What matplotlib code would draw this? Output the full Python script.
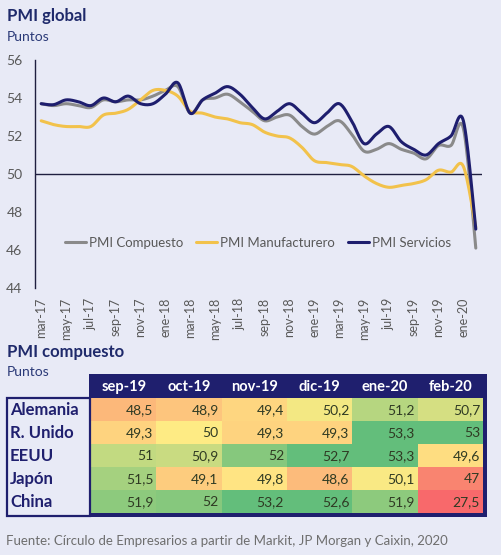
import numpy as np
import matplotlib
matplotlib.use('Agg')
import matplotlib.pyplot as plt
from matplotlib.patches import Rectangle
from matplotlib.colors import LinearSegmentedColormap, TwoSlopeNorm

plt.rcParams['font.family'] = ['Lato', 'DejaVu Sans']

# ---------------- data ----------------
meses = ['mar-17', 'abr-17', 'may-17', 'jun-17', 'jul-17', 'ago-17', 'sep-17', 'oct-17', 'nov-17', 'dic-17',
         'ene-18', 'feb-18', 'mar-18', 'abr-18', 'may-18', 'jun-18', 'jul-18', 'ago-18', 'sep-18', 'oct-18',
         'nov-18', 'dic-18', 'ene-19', 'feb-19', 'mar-19', 'abr-19', 'may-19', 'jun-19', 'jul-19', 'ago-19',
         'sep-19', 'oct-19', 'nov-19', 'dic-19', 'ene-20', 'feb-20']

pmi_compuesto = [53.7, 53.6, 53.7, 53.6, 53.5, 53.9, 53.8, 53.9, 53.9, 54.1,
                 54.4, 54.6, 53.2, 53.9, 54.0, 54.2, 53.8, 53.3, 52.8, 53.0,
                 53.1, 52.5, 52.1, 52.5, 52.8, 52.1, 51.2, 51.3, 51.6, 51.3,
                 51.1, 50.8, 51.5, 51.5, 52.4, 46.1]

pmi_manufacturero = [52.8, 52.6, 52.5, 52.5, 52.5, 53.1, 53.2, 53.4, 53.9, 54.4,
                     54.4, 54.1, 53.3, 53.2, 53.0, 52.9, 52.7, 52.6, 52.2, 52.0,
                     51.9, 51.4, 50.7, 50.6, 50.5, 50.4, 49.9, 49.5, 49.3, 49.4,
                     49.5, 49.7, 50.2, 50.1, 50.4, 47.2]

pmi_servicios = [53.7, 53.65, 53.9, 53.8, 53.6, 54.0, 53.8, 54.1, 53.7, 53.7,
                 54.2, 54.8, 53.2, 53.9, 54.25, 54.6, 54.2, 53.5, 52.9, 53.3,
                 53.7, 53.2, 52.7, 53.2, 53.7, 52.8, 51.6, 52.1, 52.5, 51.7,
                 51.3, 51.0, 51.6, 52.0, 52.8, 47.1]

series_nombres = ['PMI Compuesto', 'PMI Manufacturero', 'PMI Servicios']
yticks = [44, 46, 48, 50, 52, 54, 56]

tabla_columnas = ['sep-19', 'oct-19', 'nov-19', 'dic-19', 'ene-20', 'feb-20']
tabla_paises = ['Alemania', 'R. Unido', 'EEUU', 'Japón', 'China']
alemania = [48.5, 48.9, 49.4, 50.2, 51.2, 50.7]
r_unido = [49.3, 50, 49.3, 49.3, 53.3, 53]
eeuu = [51, 50.9, 52, 52.7, 53.3, 49.6]
japon = [51.5, 49.1, 49.8, 48.6, 50.1, 47]
china = [51.9, 52, 53.2, 52.6, 51.9, 27.5]
tabla_valores = [alemania, r_unido, eeuu, japon, china]

fuente = 'Fuente: Círculo de Empresarios a partir de Markit, JP Morgan y Caixin, 2020'

# ---------------- style ----------------
BG = '#E8EAF6'
NAVY = '#1F1F6E'
TITLE = '#1F2A6B'
GRAY_TXT = '#595959'
C_GRAY = '#8A8A8A'
C_YEL = '#F2C24B'
C_NAVY = '#1E1E6E'

W, H = 501, 555
fig = plt.figure(figsize=(W / 100, H / 100), dpi=100, facecolor=BG)


def smooth(y, n=16):
    """Catmull-Rom style smoothing (like Excel smoothed lines)."""
    x = np.arange(len(y), dtype=float)
    y = np.asarray(y, dtype=float)
    P = np.column_stack([x, y])
    out = []
    for i in range(len(P) - 1):
        p0 = P[max(i - 1, 0)]
        p1 = P[i]
        p2 = P[i + 1]
        p3 = P[min(i + 2, len(P) - 1)]
        b1 = p1 + (p2 - p0) / 6.0
        b2 = p2 - (p3 - p1) / 6.0
        t = np.linspace(0, 1, n, endpoint=(i == len(P) - 2))[:, None]
        seg = ((1 - t) ** 3) * p1 + 3 * ((1 - t) ** 2) * t * b1 + 3 * (1 - t) * t ** 2 * b2 + t ** 3 * p2
        out.append(seg)
    s = np.vstack(out)
    return s[:, 0], s[:, 1]


# ---------------- line chart ----------------
ax = fig.add_axes([35 / W, 1 - 288 / H, 447 / W, 228 / H])
ax.set_facecolor('none')
ax.set_xlim(-0.5, 35.5)
ax.set_ylim(44, 56)
for sp in ['top', 'right', 'bottom']:
    ax.spines[sp].set_visible(False)
ax.spines['left'].set_color('#1F1F3F')
ax.spines['left'].set_linewidth(1.0)
ax.axhline(50, color='#1F1F3F', lw=1.0, zorder=1)

for vals, col, name in zip([pmi_compuesto, pmi_manufacturero, pmi_servicios],
                           [C_GRAY, C_YEL, C_NAVY], series_nombres):
    xs, ys = smooth(vals)
    ax.plot(xs, ys, color=col, lw=2.2, label=name, solid_capstyle='round', zorder=3)

ax.set_yticks(yticks)
ax.set_yticklabels([str(v) for v in yticks])
ax.tick_params(axis='y', length=0, pad=9, labelsize=10, labelcolor=GRAY_TXT)
xt = list(range(0, len(meses), 2))
ax.set_xticks(xt)
ax.set_xticklabels([meses[i] for i in xt], rotation=90)
ax.tick_params(axis='x', length=0, pad=7, labelsize=9, labelcolor=GRAY_TXT)

leg = ax.legend(loc='center', bbox_to_anchor=((258 - 35) / 447, (288 - 243) / 228), ncol=3,
                frameon=False, fontsize=9.5, handlelength=1.6, handletextpad=0.2,
                columnspacing=1.0)
for t in leg.get_texts():
    t.set_color(GRAY_TXT)

# ---------------- overlay (titles + table) ----------------
axo = fig.add_axes([0, 0, 1, 1])
axo.set_xlim(0, W)
axo.set_ylim(H, 0)
axo.axis('off')

axo.text(7, 21, 'PMI global', fontsize=12, fontweight='bold', color=TITLE, va='baseline')
axo.text(7, 41, 'Puntos', fontsize=10, color='#2B3A78', va='baseline')
axo.text(7, 357, 'PMI compuesto', fontsize=12, fontweight='bold', color=TITLE, va='baseline')
axo.text(7, 376, 'Puntos', fontsize=10, color='#2B3A78', va='baseline')

cmap = LinearSegmentedColormap.from_list('excel', ['#F8696B', '#FFEB84', '#63BE7B'])
VMIN, VMID, VMAX = 46.2, 50, 52.6
norm = TwoSlopeNorm(vmin=VMIN, vcenter=VMID, vmax=VMAX)

tx0, tx1 = 91, 483
ty0, ty1 = 398, 513
ncol = len(tabla_columnas)
nrow = len(tabla_paises)
cw = (tx1 - tx0) / ncol
rh = (ty1 - ty0) / nrow

# navy frame / header
axo.add_patch(Rectangle((89, 374), 487 - 89, 517 - 374, facecolor=NAVY, edgecolor='none', zorder=1))
for j, c in enumerate(tabla_columnas):
    axo.text(tx0 + (j + 0.5) * cw, 387, c, color='white', fontsize=10.5, fontweight='bold',
             ha='center', va='center', zorder=3)

for i, (pais, fila) in enumerate(zip(tabla_paises, tabla_valores)):
    yc = ty0 + (i + 0.5) * rh
    for j, v in enumerate(fila):
        vv = min(max(v, VMIN), VMAX)
        col = cmap(norm(vv))
        axo.add_patch(Rectangle((tx0 + j * cw, ty0 + i * rh), cw, rh, facecolor=col,
                                edgecolor='none', zorder=2))
        txt = ('%g' % v).replace('.', ',')
        axo.text(tx0 + (j + 1) * cw - 3, yc + 0.5, txt, ha='right', va='center', fontsize=10,
                 color='#2F3A23', zorder=3)
    axo.text(10, yc + 0.5, pais, ha='left', va='center', fontsize=12, fontweight='bold',
             color=NAVY, zorder=3)

# row label frame
axo.add_patch(Rectangle((7, 398), 83, 117.5, facecolor='none', edgecolor=NAVY, lw=1.6, zorder=3))

axo.text(6, 541, fuente, ha='left', va='center', fontsize=9.5, color='#6E6E6E')

fig.savefig('out.png', dpi=100, facecolor=BG)
